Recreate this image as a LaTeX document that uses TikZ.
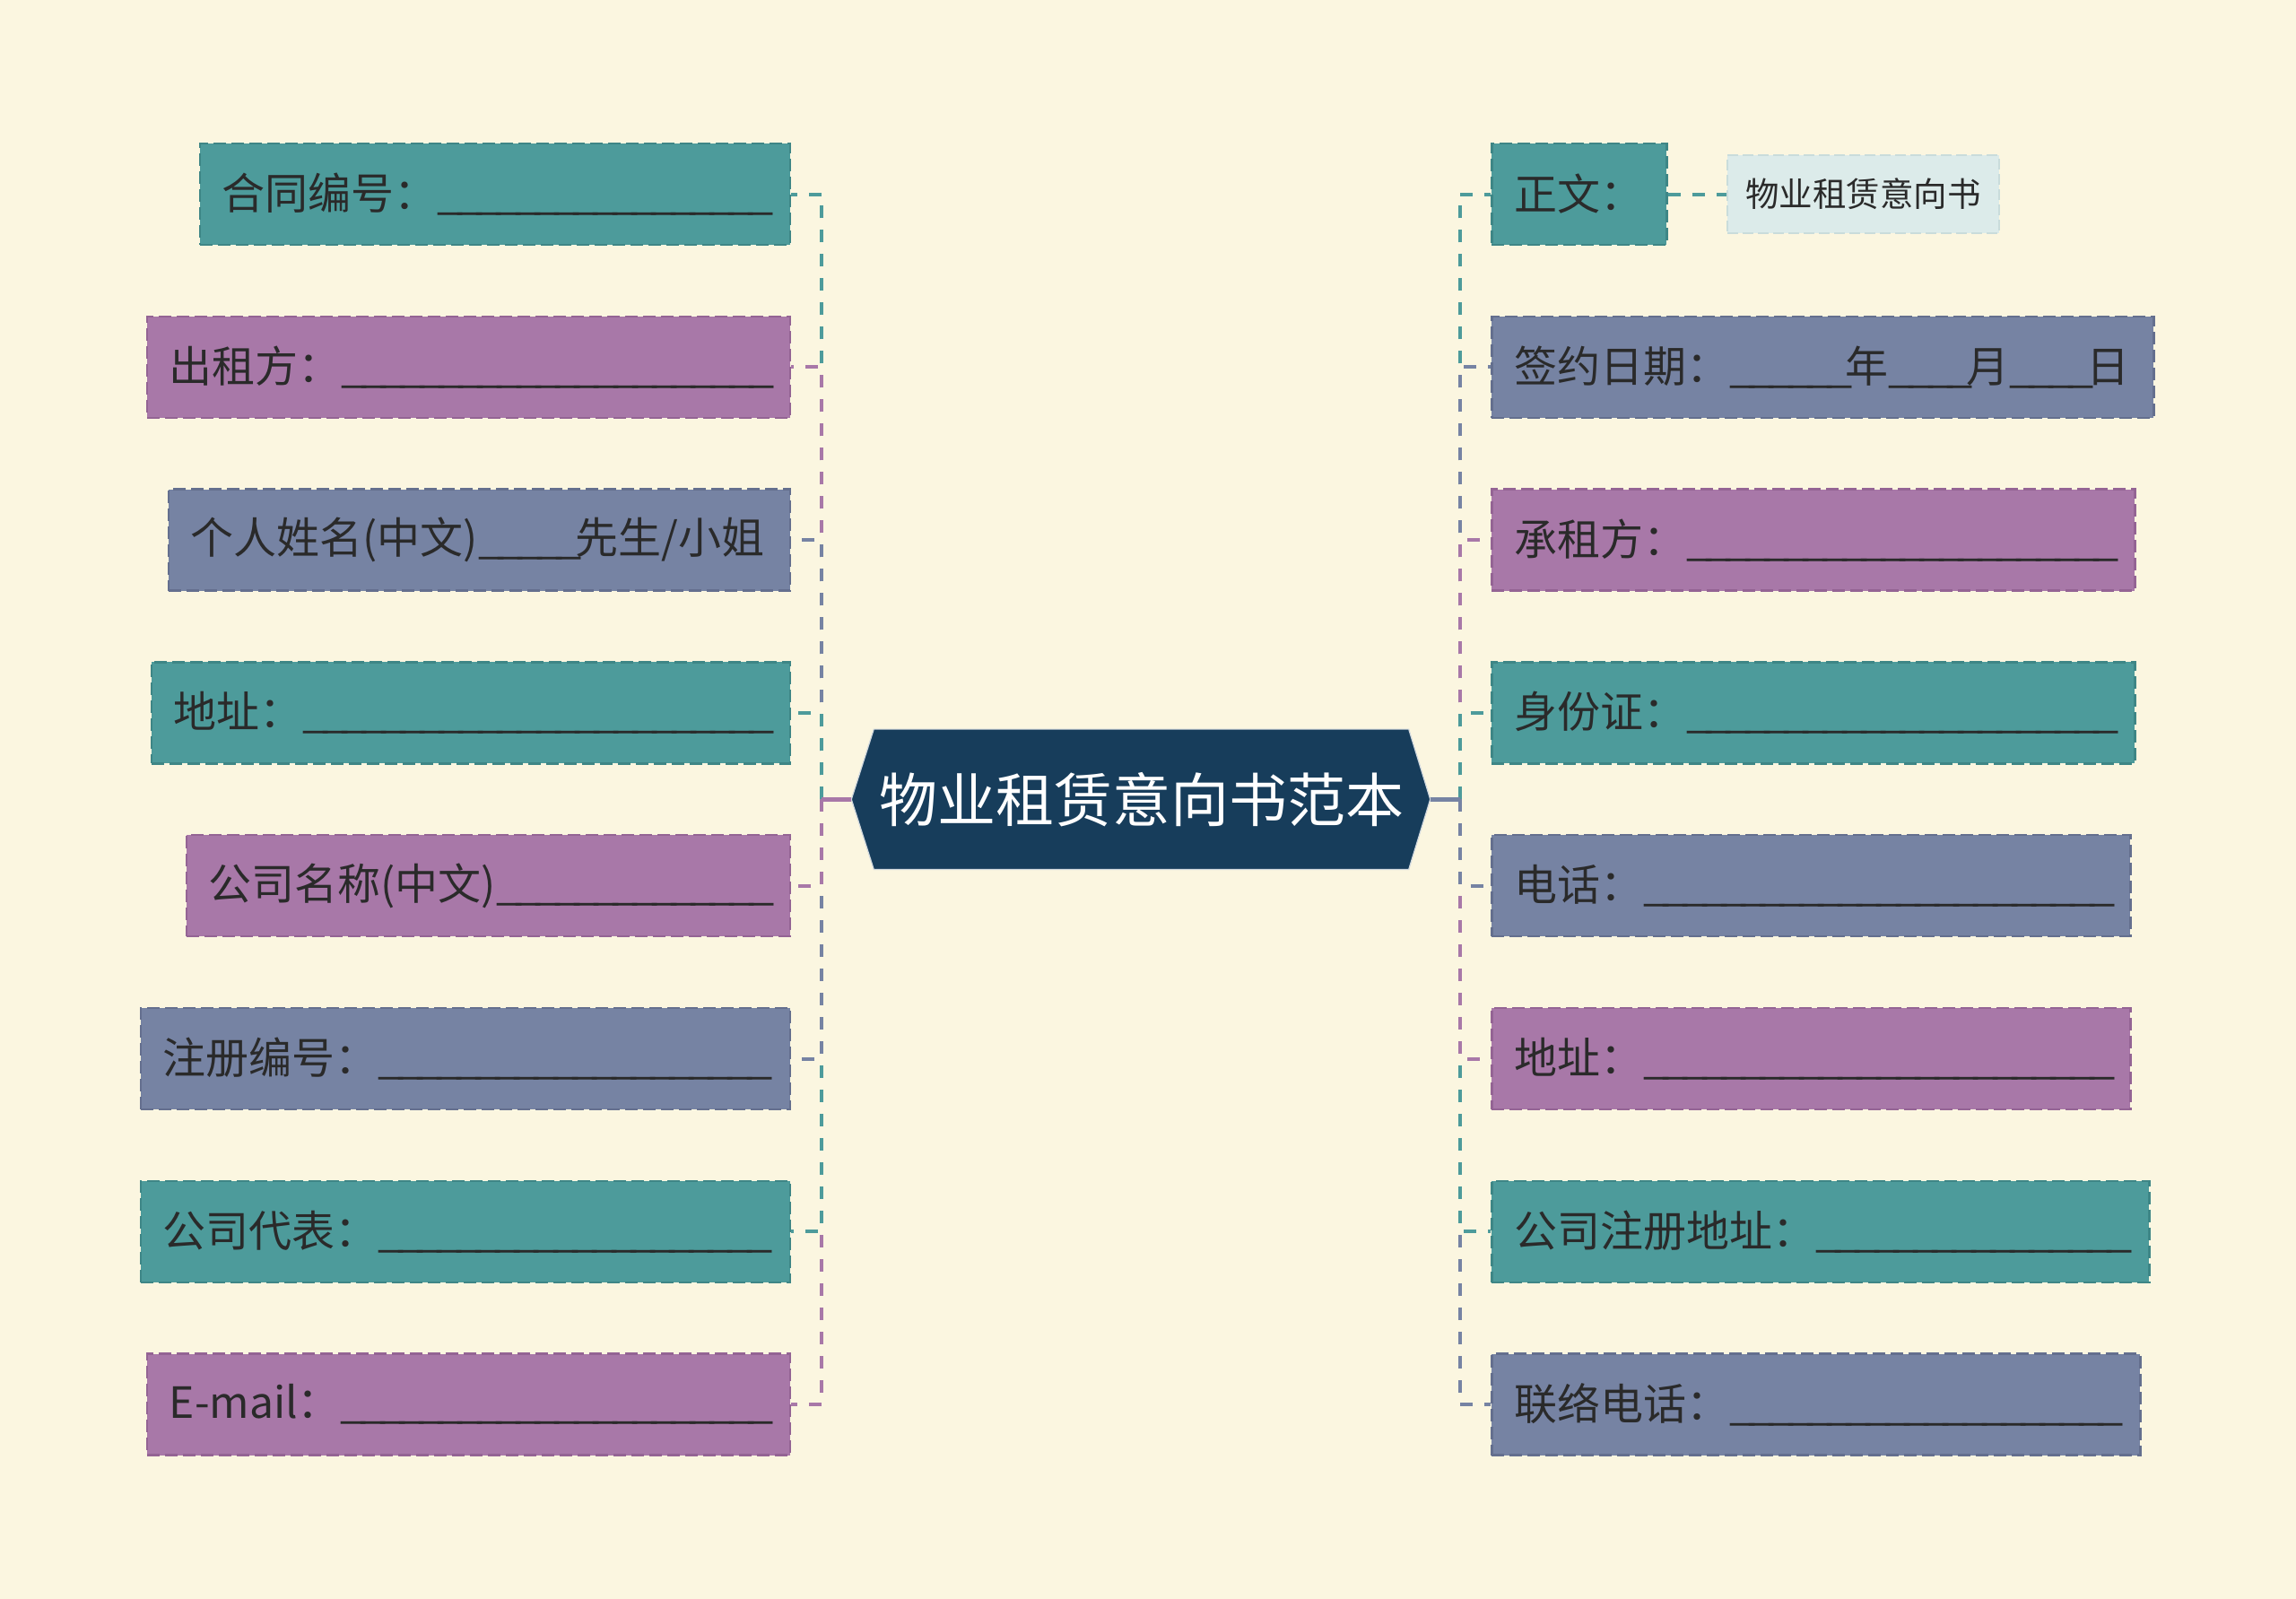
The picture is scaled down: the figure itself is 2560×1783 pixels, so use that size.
\documentclass[tikz,border=0pt]{standalone}
\usepackage{fontspec}
\setmainfont{Noto Sans CJK SC}
\usepackage{graphicx}
\usetikzlibrary{backgrounds}
\definecolor{bgc}{HTML}{FBF6E0}
\definecolor{tealf}{HTML}{4D9B9B}
\definecolor{teald}{HTML}{3E8686}
\definecolor{purf}{HTML}{A878A8}
\definecolor{purd}{HTML}{946494}
\definecolor{bluf}{HTML}{7683A3}
\definecolor{blud}{HTML}{646F8E}
\definecolor{rootc}{HTML}{173D5B}
\definecolor{childf}{HTML}{DCEBEA}
\definecolor{childd}{HTML}{C9DCDB}
\definecolor{txt}{HTML}{2A2A2A}
\newlength\usw
\newcommand\us[1]{\scalebox{\usf}[1]{\foreach\i in {1,...,#1}{\_\kern-7pt}}}
\begin{document}
\settowidth\usw{\fontsize{48}{56}\selectfont\_\kern-7pt}%
\pgfmathsetmacro\usf{21.6/\usw}%
\begin{tikzpicture}[x=1pt,y=-1pt,
  box/.style={minimum height=113pt, inner xsep=25pt, inner ysep=0pt, align=left,
    font=\fontsize{48}{56}\selectfont, text=txt, line width=2.5pt, dash pattern=on 14pt off 6pt},
  tealbox/.style={box, fill=tealf, draw=teald},
  purbox/.style={box, fill=purf, draw=purd},
  blubox/.style={box, fill=bluf, draw=blud},
  childbox/.style={minimum height=87pt, inner xsep=20pt, inner ysep=0pt,
    font=\fontsize{37.5}{44}\selectfont, text=txt, fill=childf, draw=childd,
    line width=2pt, dash pattern=on 12pt off 5pt},
  conn/.style={line width=4pt, dash pattern=on 14pt off 13pt},
  stub/.style={line width=4.5pt},
]
\useasboundingbox (0,0) rectangle (2560,1783);
\begin{scope}[on background layer]
  \fill[bgc] (0,0) rectangle (2560,1783);
\end{scope}

% root
\node[font=\fontsize{65}{75}\selectfont, text=white, minimum width=596pt,
  minimum height=156pt, inner sep=0pt] (root) at (1272.5,891.3) {物业租赁意向书范本};
\begin{scope}[on background layer]
  \filldraw[fill=rootc, draw=white!80!rootc, line width=1.2pt]
    (root.north west) -- (root.north east) -- ([xshift=24pt]root.east)
    -- (root.south east) -- (root.south west) -- ([xshift=-25pt]root.west) -- cycle;
\end{scope}
\coordinate (rW) at ([xshift=-25pt]root.west);
\coordinate (rE) at ([xshift=24pt]root.east);
\coordinate (jL) at (916,891.3);
\coordinate (jR) at (1628,891.3);

% left boxes
\node[tealbox, anchor=east, text width=608pt] (L1) at (882,216.5) {合同编号：\us{17}};
\node[purbox,  anchor=east, text width=667pt] (L2) at (882,409.3) {出租方：\us{22}};
\node[blubox,  anchor=east, text width=643pt] (L3) at (882,602.1) {个人姓名(中文)\us{5}先生/小姐};
\node[tealbox, anchor=east, text width=662pt] (L4) at (882,794.9) {地址：\us{24}};
\node[purbox,  anchor=east, text width=623pt] (L5) at (882,987.7) {公司名称(中文)\us{14}};
\node[blubox,  anchor=east, text width=674pt] (L6) at (882,1180.5) {注册编号：\us{20}};
\node[tealbox, anchor=east, text width=674pt] (L7) at (882,1373.3) {公司代表：\us{20}};
\node[purbox,  anchor=east, text width=667pt] (L8) at (882,1566.1) {E-mail：\us{22}};

% right boxes
\node[tealbox, anchor=west, text width=145pt] (R1) at (1662,216.5) {正文：};
\node[blubox,  anchor=west, text width=688pt] (R2) at (1662,409.3) {签约日期：\us{6}年\us{4}月\us{4}日};
\node[purbox,  anchor=west, text width=667pt] (R3) at (1662,602.1) {承租方：\us{22}};
\node[tealbox, anchor=west, text width=667pt] (R4) at (1662,794.9) {身份证：\us{22}};
\node[blubox,  anchor=west, text width=662pt] (R5) at (1662,987.7) {电话：\us{24}};
\node[purbox,  anchor=west, text width=662pt] (R6) at (1662,1180.5) {地址：\us{24}};
\node[tealbox, anchor=west, text width=683pt] (R7) at (1662,1373.3) {公司注册地址：\us{16}};
\node[blubox,  anchor=west, text width=673pt] (R8) at (1662,1566.1) {联络电话：\us{20}};

% child
\node[childbox, anchor=west] (C) at (1925,216.5) {物业租赁意向书};

% left connectors
\draw[conn, tealf] (jL) |- (L1.east);
\draw[conn, purf]  (jL) |- (L2.east);
\draw[conn, bluf]  (jL) |- (L3.east);
\draw[conn, tealf] (jL) |- (L4.east);
\draw[conn, purf]  (jL) |- (L8.east);
\draw[conn, tealf] (jL) |- (L7.east);
\draw[conn, bluf]  (jL) |- (L6.east);
\draw[conn, purf]  (jL) |- (L5.east);
\draw[stub, purf]  (rW) -- (jL);

% right connectors
\draw[conn, tealf] (jR) |- (R1.west);
\draw[conn, bluf]  (jR) |- (R2.west);
\draw[conn, purf]  (jR) |- (R3.west);
\draw[conn, tealf] (jR) |- (R4.west);
\draw[conn, bluf]  (jR) |- (R8.west);
\draw[conn, tealf] (jR) |- (R7.west);
\draw[conn, purf]  (jR) |- (R6.west);
\draw[conn, bluf]  (jR) |- (R5.west);
\draw[stub, bluf]  (rE) -- (jR);

\draw[conn, tealf] (R1.east) -- (C.west);
\end{tikzpicture}
\end{document}
